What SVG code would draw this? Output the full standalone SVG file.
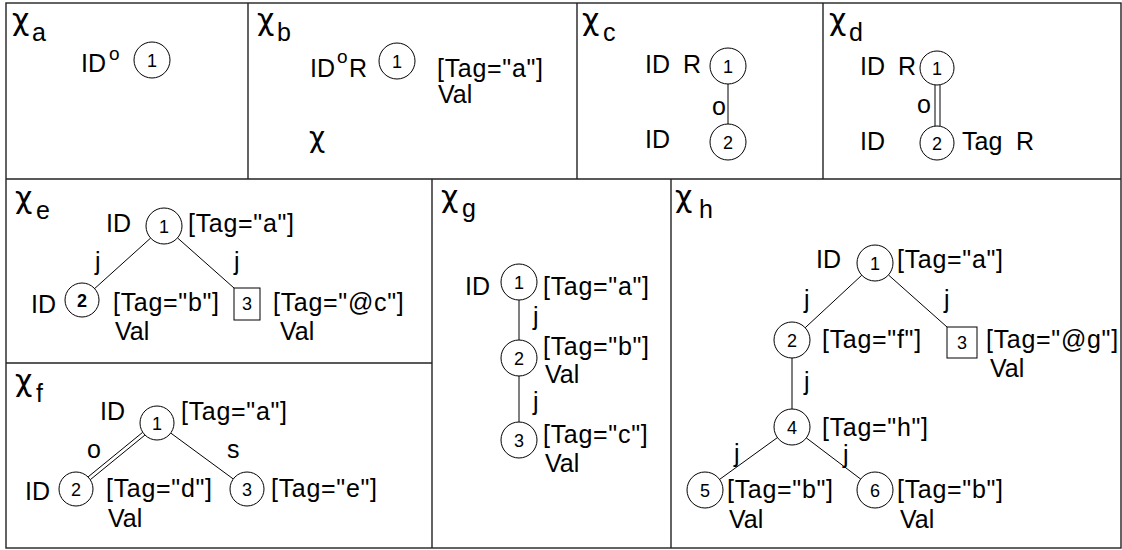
<svg xmlns="http://www.w3.org/2000/svg" width="1122" height="550" viewBox="0 0 1122 550">
<style>
text{font-family:"Liberation Sans",Arial,sans-serif;fill:#000}
.t{font-size:25px}
.g{font-size:25px;letter-spacing:0.7px}
.chi{font-family:"DejaVu Sans",sans-serif;font-size:30px}
.sub{font-size:25px}
.sup{font-size:19px}
.num{font-size:18px;text-anchor:middle}
.n{fill:#fff;stroke:#000;stroke-width:1}
.e{stroke:#000;stroke-width:1;fill:none}
.frame{stroke:#222;stroke-width:1.4;fill:none}
</style>
<rect width="1122" height="550" fill="#fff"/>
<g id="frames">
<rect class="frame" x="6" y="3" width="1115" height="545"/>
<line class="frame" x1="6" y1="179" x2="1121" y2="179"/>
<line class="frame" x1="248" y1="3" x2="248" y2="179"/>
<line class="frame" x1="577" y1="3" x2="577" y2="179"/>
<line class="frame" x1="823" y1="3" x2="823" y2="179"/>
<line class="frame" x1="432" y1="179" x2="432" y2="548"/>
<line class="frame" x1="671" y1="179" x2="671" y2="548"/>
<line class="frame" x1="6" y1="363" x2="432" y2="363"/>
</g>
<g id="titles">
<text class="chi" x="12" y="30">χ</text><text class="sub" x="32" y="41">a</text>
<text class="chi" x="257" y="30">χ</text><text class="sub" x="277" y="41">b</text>
<text class="chi" x="582" y="30">χ</text><text class="sub" x="603" y="41">c</text>
<text class="chi" x="829" y="30">χ</text><text class="sub" x="849" y="41">d</text>
<text class="chi" x="15" y="208">χ</text><text class="sub" x="36" y="219">e</text>
<text class="chi" x="15" y="391">χ</text><text class="sub" x="36" y="402">f</text>
<text class="chi" x="441" y="207">χ</text><text class="sub" x="462" y="217">g</text>
<text class="chi" x="675" y="207">χ</text><text class="sub" x="699" y="218">h</text>
<text class="chi" x="309" y="147" style="font-size:28px">χ</text>
</g>
<g id="connectors">
<line class="e" x1="728" y1="84" x2="728" y2="124"/>
<line class="e" x1="935" y1="85" x2="935" y2="126"/>
<line class="e" x1="940" y1="85" x2="940" y2="126"/>
<line class="e" x1="150.6" y1="238.1" x2="94.6" y2="288.6"/>
<line class="e" x1="177.5" y1="237.9" x2="234" y2="288"/>
<line class="e" x1="142.7" y1="432.3" x2="88.1" y2="476.9"/>
<line class="e" x1="144.9" y1="435.1" x2="90.3" y2="479.7"/>
<line class="e" x1="170.7" y1="433" x2="233.3" y2="479"/>
<line class="e" x1="519" y1="300" x2="519" y2="340"/>
<line class="e" x1="519" y1="376" x2="519" y2="422"/>
<line class="e" x1="861.8" y1="275.2" x2="804.8" y2="328.1"/>
<line class="e" x1="888.5" y1="275" x2="947" y2="327"/>
<line class="e" x1="792" y1="358" x2="792" y2="409"/>
<line class="e" x1="777.4" y1="437.6" x2="719.6" y2="479.4"/>
<line class="e" x1="806.3" y1="437.9" x2="860.7" y2="479.1"/>
<text class="t" x="712" y="115">o</text>
<text class="t" x="917" y="113">o</text>
<text class="t" x="95" y="270">j</text>
<text class="t" x="234" y="270">j</text>
<text class="t" x="87" y="458">o</text>
<text class="t" x="227" y="458">s</text>
<text class="t" x="533" y="325">j</text>
<text class="t" x="533" y="410">j</text>
<text class="t" x="804" y="308">j</text>
<text class="t" x="944" y="308">j</text>
<text class="t" x="804" y="390">j</text>
<text class="t" x="734" y="462">j</text>
<text class="t" x="843" y="463">j</text>
</g>
<g id="a-n1">
<text class="t" x="81" y="72">ID</text><text class="sup" x="109" y="60">o</text>
<circle class="n" cx="152" cy="60" r="18"/><text class="num" x="152" y="66.5">1</text>
</g>
<g id="b-n1">
<text class="t" x="310" y="77">ID</text><text class="sup" x="337" y="63">o</text><text class="t" x="349" y="77">R</text>
<circle class="n" cx="397" cy="61" r="18"/><text class="num" x="397" y="67.5">1</text>
<text class="g" x="437" y="77">[Tag="a"]</text><text class="t" x="438" y="103">Val</text>
</g>
<g id="c-n1">
<text class="t" x="645" y="73">ID</text><text class="t" x="683" y="73">R</text>
<circle class="n" cx="728" cy="66" r="18"/><text class="num" x="728" y="72.5">1</text>
</g>
<g id="c-n2">
<text class="t" x="645" y="148">ID</text>
<circle class="n" cx="728" cy="142" r="18"/><text class="num" x="728" y="148.5">2</text>
</g>
<g id="d-n1">
<text class="t" x="860" y="75">ID</text><text class="t" x="898" y="75">R</text>
<circle class="n" cx="937" cy="68" r="17"/><text class="num" x="937" y="74.5">1</text>
</g>
<g id="d-n2">
<text class="t" x="860" y="150">ID</text>
<circle class="n" cx="937" cy="143" r="17"/><text class="num" x="937" y="149.5">2</text>
<text class="t" x="962" y="150">Tag</text><text class="t" x="1016" y="150">R</text>
</g>
<g id="e-n1">
<text class="t" x="106" y="232">ID</text>
<circle class="n" cx="164" cy="226" r="18"/><text class="num" x="164" y="232.5">1</text>
<text class="g" x="188" y="232">[Tag="a"]</text>
</g>
<g id="e-n2">
<text class="t" x="31" y="313">ID</text>
<circle class="n" cx="82" cy="300" r="17"/><text class="num" x="82" y="306.5" font-weight="bold">2</text>
<text class="g" x="113" y="311">[Tag="b"]</text><text class="t" x="115" y="340">Val</text>
</g>
<g id="e-n3">
<rect class="n" x="234" y="288" width="26" height="32"/><text class="num" x="247" y="310">3</text>
<text class="g" x="273" y="311">[Tag="@c"]</text><text class="t" x="280" y="340">Val</text>
</g>
<g id="f-n1">
<text class="t" x="100" y="420">ID</text>
<circle class="n" cx="157" cy="423" r="17"/><text class="num" x="157" y="429.5">1</text>
<text class="g" x="181" y="420">[Tag="a"]</text>
</g>
<g id="f-n2">
<text class="t" x="25" y="500">ID</text>
<circle class="n" cx="76" cy="489" r="17"/><text class="num" x="76" y="495.5">2</text>
<text class="g" x="106" y="497">[Tag="d"]</text><text class="t" x="108" y="527">Val</text>
</g>
<g id="f-n3">
<circle class="n" cx="247" cy="489" r="17"/><text class="num" x="247" y="495.5">3</text>
<text class="g" x="271" y="497">[Tag="e"]</text>
</g>
<g id="g-n1">
<text class="t" x="465" y="295">ID</text>
<circle class="n" cx="519" cy="282" r="18"/><text class="num" x="519" y="288.5">1</text>
<text class="g" x="543" y="295">[Tag="a"]</text>
</g>
<g id="g-n2">
<circle class="n" cx="519" cy="358" r="18"/><text class="num" x="519" y="364.5">2</text>
<text class="g" x="543" y="355">[Tag="b"]</text><text class="t" x="545" y="383">Val</text>
</g>
<g id="g-n3">
<circle class="n" cx="519" cy="440" r="18"/><text class="num" x="519" y="446.5">3</text>
<text class="g" x="543" y="443">[Tag="c"]</text><text class="t" x="545" y="472">Val</text>
</g>
<g id="h-n1">
<text class="t" x="816" y="268">ID</text>
<circle class="n" cx="875" cy="263" r="18"/><text class="num" x="875" y="269.5">1</text>
<text class="g" x="897" y="268">[Tag="a"]</text>
</g>
<g id="h-n2">
<circle class="n" cx="792" cy="340" r="18"/><text class="num" x="792" y="346.5">2</text>
<text class="g" x="822" y="348">[Tag="f"]</text>
</g>
<g id="h-n3">
<rect class="n" x="947" y="327" width="30" height="31"/><text class="num" x="962" y="349">3</text>
<text class="g" x="986" y="348">[Tag="@g"]</text><text class="t" x="990" y="377">Val</text>
</g>
<g id="h-n4">
<circle class="n" cx="792" cy="427" r="18"/><text class="num" x="792" y="433.5">4</text>
<text class="g" x="822" y="436">[Tag="h"]</text>
</g>
<g id="h-n5">
<circle class="n" cx="705" cy="490" r="18"/><text class="num" x="705" y="496.5">5</text>
<text class="g" x="727" y="498">[Tag="b"]</text><text class="t" x="729" y="528">Val</text>
</g>
<g id="h-n6">
<circle class="n" cx="875" cy="490" r="18"/><text class="num" x="875" y="496.5">6</text>
<text class="g" x="897" y="498">[Tag="b"]</text><text class="t" x="900" y="528">Val</text>
</g>
</svg>
